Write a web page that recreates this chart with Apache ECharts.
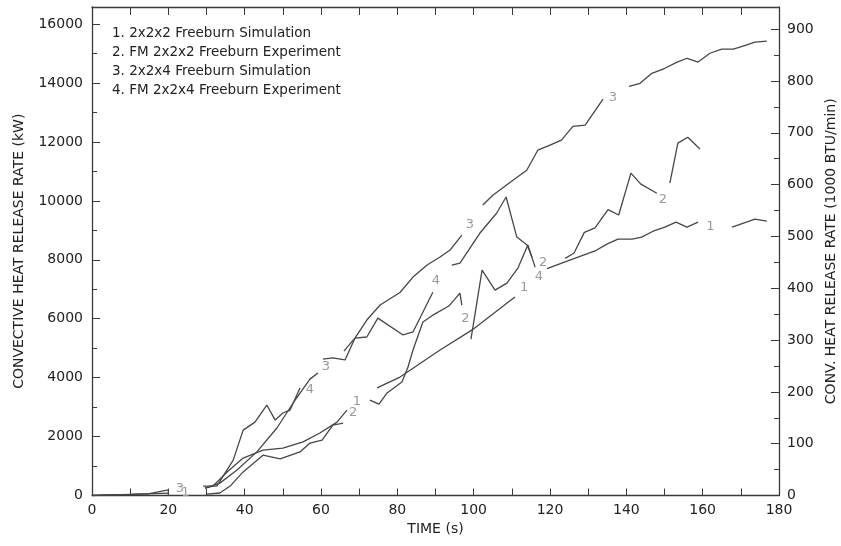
<!DOCTYPE html>
<html>
<head>
<meta charset="utf-8">
<script src="https://cdn.jsdelivr.net/npm/echarts@6/dist/echarts.min.js"></script>
<style>
  html, body { margin: 0; padding: 0; background: #fff; }
  #chart { width: 841px; height: 546px; }
</style>
</head>
<body>
<div id="chart"></div>
<script>
// Legend entries (series order 1..4)
const seriesNames = [
  '2x2x2 Freeburn Simulation',
  'FM 2x2x2 Freeburn Experiment',
  '2x2x4 Freeburn Simulation',
  'FM 2x2x4 Freeburn Experiment'
];

// Time (s) and convective HRR (kW); null marks a break in the curve
const sim222Time = [0, 10, 20, 24, 29.6, 31.7, 35.4, 39.6, 44.8, 50, 55.3, 59.7, 64.2, 66.8, 69.4, 74.7, 80.7, 91.2, 99.6, 110.8, 113.2, 119.2, 125.2, 131.8, 134.9, 137.8, 141.5, 144, 147, 150.1, 153, 155.9, 158.8, 162, 167.7, 173.7, 176.8];
const sim222Hrr  = [0, 40, 80, null, 250, 320, 800, 1270, 1540, 1610, 1820, 2120, 2490, 2900, null, 3650, 4020, 4940, 5620, 6740, null, 7700, 7990, 8300, 8530, 8700, 8700, 8770, 8970, 9110, 9280, 9110, 9280, null, 9110, 9380, 9310];

const exp222Time = [30.1, 33.5, 36.2, 39.6, 44.8, 49.3, 54.5, 57.1, 60.3, 63.1, 65.8, 68.4, 72.8, 75.2, 77.3, 81.2, 82.8, 84.1, 86.7, 89.3, 93.5, 96.4, 96.9, 97.8, 99.3, 102.2, 105.6, 108.7, 111.6, 114.2, 116.1, 118.2, 124, 126.3, 129, 131.8, 135.2, 138, 141.2, 143.8, 148, 149.6, 151.4, 153.5, 156.1, 159.3];
const exp222Hrr  = [50, 85, 320, 800, 1370, 1240, 1480, 1780, 1880, 2390, 2460, null, 3240, 3100, 3480, 3850, 4360, 4940, 5890, 6120, 6430, 6870, 6460, null, 5310, 7650, 6970, 7210, 7720, 8500, 7750, null, 8050, 8230, 8930, 9080, 9700, 9520, 10940, 10570, 10260, null, 10600, 11960, 12160, 11760];

const sim224Time = [0, 5, 10, 15, 20, 20, 23, 29.6, 33.5, 38, 43.2, 48.5, 52.7, 57.1, 59.2, 61.5, 66, 68.9, 72, 75.5, 80.7, 84.1, 87.8, 91.2, 93.8, 96.9, 99, 102.4, 105.1, 110.3, 113.9, 116.8, 120, 123, 126, 129.2, 133.9, 136.5, 140.7, 143.6, 146.7, 150.1, 153.3, 155.9, 158.8, 161.9, 165, 168, 170.6, 173.7, 176.8];
const sim224Hrr  = [0, 30, 40, 60, 190, 0, null, 250, 420, 865, 1480, 2300, 3140, 3950, 4160, null, 4900, 5344, 5955, 6464, 6890, 7414, 7821, 8093, 8330, 8840, null, 9860, 10200, 10700, 11040, 11720, 11890, 12060, 12530, 12570, 13450, null, 13890, 13990, 14330, 14500, 14710, 14840, 14710, 15010, 15150, 15150, 15250, 15390, 15420];

const exp224Time = [29.1, 32.7, 37, 39.6, 42.7, 45.8, 48, 50, 51.9, 54.5, 57.1, 60.5, 63.1, 66.3, 68.9, 72, 74.9, 81.5, 84.1, 89.3, 90.1, 94.3, 96.4, 101.6, 106, 108.5, 111.3, 114, 115.3];
const exp224Hrr  = [320, 320, 1200, 2220, 2490, 3070, 2560, 2800, 2900, 3650, null, 4630, 4670, 4600, 5340, 5380, 6020, 5450, 5550, 6900, null, 7820, 7890, 8900, 9580, 10130, 8770, 8500, 8090];

// Curve number tags as [time, kW]
const sim222Tags = [[24.5, 90], [69.4, 3170], [113.2, 7040], [162, 9110]];
const exp222Tags = [[68.4, 2800], [97.8, 6020], [118.2, 7890], [149.6, 10030]];
const sim224Tags = [[23, 230], [61.3, 4390], [99, 9180], [136.5, 13490]];
const exp224Tags = [[57.1, 3610], [90.1, 7280], [117.1, 7420]];

// Axis settings
const timeMax = 180;
const kwMax = 16580;
const kwPerKbtuMin = 17.584;   // 1000 BTU/min expressed in kW

const font = 'DejaVu Sans';
const ink = '#3a3a3a';

function curve(times, values) {
  return times.map((t, i) => [t, values[i] === null ? '-' : values[i]]);
}

function makeSeries(idx, times, values, tags) {
  const num = String(idx + 1);
  return {
    name: seriesNames[idx],
    type: 'line',
    xAxisIndex: 0,
    yAxisIndex: 0,
    data: curve(times, values),
    showSymbol: false,
    symbol: 'none',
    connectNulls: false,
    animation: false,
    lineStyle: { color: '#474747', width: 1.3 },
    markPoint: {
      symbol: 'circle',
      symbolSize: 1,
      itemStyle: { color: 'rgba(0,0,0,0)' },
      animation: false,
      label: {
        show: true,
        position: 'inside',
        formatter: num,
        color: '#9a9a9a',
        fontFamily: font,
        fontSize: 13
      },
      data: tags.map(c => ({ coord: c, value: num }))
    }
  };
}

const tickStyle = { color: ink, width: 1 };
const frameLine = { show: true, onZero: false, lineStyle: { color: ink, width: 1.3 } };

const chart = echarts.init(document.getElementById('chart'), null, { renderer: 'canvas' });

chart.setOption({
  animation: false,
  backgroundColor: '#fff',
  grid: { left: 92, right: 62, top: 7, bottom: 50.5, containLabel: false, outerBoundsMode: 'none' },
  xAxis: [
    {
      type: 'value', position: 'bottom', min: 0, max: timeMax, interval: 10,
      axisLine: frameLine,
      axisTick: { show: true, inside: true, length: 7, lineStyle: tickStyle },
      axisLabel: {
        margin: 8, color: '#222', fontFamily: font, fontSize: 14,
        formatter: v => (v % 20 === 0 ? String(v) : '')
      },
      splitLine: { show: false },
      name: 'TIME (s)', nameLocation: 'middle', nameGap: 26,
      nameTextStyle: { color: '#222', fontFamily: font, fontSize: 14 }
    },
    {
      type: 'value', position: 'top', min: 0, max: timeMax, interval: 10,
      axisLine: frameLine,
      axisTick: { show: true, inside: true, length: 8, lineStyle: tickStyle },
      axisLabel: { show: false },
      splitLine: { show: false }
    }
  ],
  yAxis: [
    {
      type: 'value', position: 'left', min: 0, max: kwMax, interval: 1000,
      axisLine: frameLine,
      axisTick: { show: true, inside: true, length: 5, lineStyle: tickStyle },
      axisLabel: {
        margin: 9, color: '#222', fontFamily: font, fontSize: 14,
        formatter: v => (v % 2000 === 0 ? String(v) : '')
      },
      splitLine: { show: false },
      name: 'CONVECTIVE HEAT RELEASE RATE (kW)', nameLocation: 'middle', nameGap: 66,
      nameTextStyle: { color: '#222', fontFamily: font, fontSize: 14 }
    },
    {
      type: 'value', position: 'right', min: 0, max: kwMax / kwPerKbtuMin, interval: 50,
      axisLine: frameLine,
      axisTick: { show: true, inside: true, length: 5, lineStyle: tickStyle },
      axisLabel: {
        margin: 8, color: '#222', fontFamily: font, fontSize: 14,
        formatter: v => (Math.abs(v % 100) < 1e-6 ? String(Math.round(v)) : '')
      },
      splitLine: { show: false },
      name: 'CONV. HEAT RELEASE RATE (1000 BTU/min)', nameLocation: 'middle', nameGap: 45,
      nameTextStyle: { color: '#222', fontFamily: font, fontSize: 14 }
    },
    {
      type: 'value', position: 'left', min: 0, max: kwMax, interval: 2000,
      axisLine: { show: false, onZero: false },
      axisTick: { show: true, inside: true, length: 8, lineStyle: tickStyle },
      axisLabel: { show: false },
      splitLine: { show: false }
    },
    {
      type: 'value', position: 'right', min: 0, max: kwMax / kwPerKbtuMin, interval: 100,
      axisLine: { show: false, onZero: false },
      axisTick: { show: true, inside: true, length: 8, lineStyle: tickStyle },
      axisLabel: { show: false },
      splitLine: { show: false }
    }
  ],
  graphic: seriesNames.map((name, i) => ({
    type: 'text',
    x: 112,
    y: 33 + i * 19.3,
    silent: true,
    style: {
      text: (i + 1) + '. ' + name,
      font: '13.5px "DejaVu Sans"',
      fill: '#222',
      verticalAlign: 'middle'
    }
  })),
  series: [
    makeSeries(0, sim222Time, sim222Hrr, sim222Tags),
    makeSeries(1, exp222Time, exp222Hrr, exp222Tags),
    makeSeries(2, sim224Time, sim224Hrr, sim224Tags),
    makeSeries(3, exp224Time, exp224Hrr, exp224Tags)
  ]
});
</script>
</body>
</html>
